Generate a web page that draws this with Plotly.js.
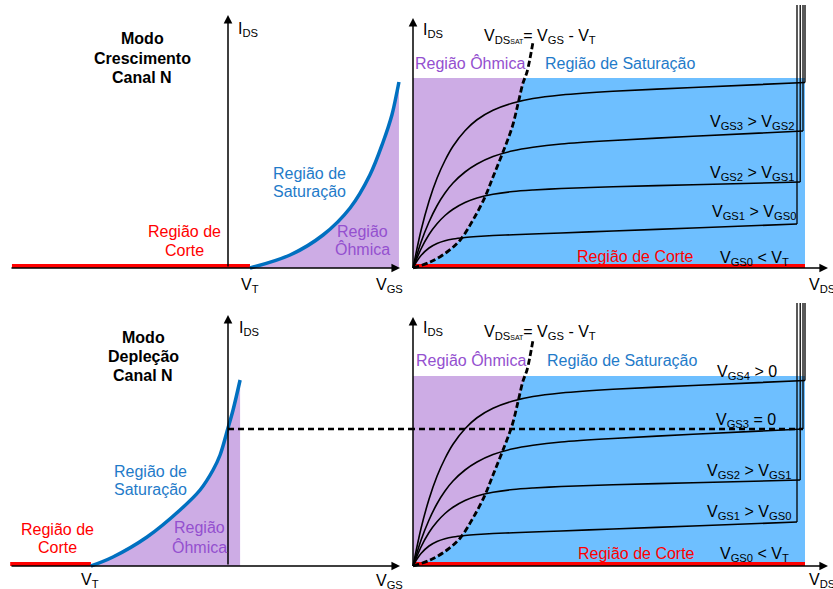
<!DOCTYPE html>
<html><head><meta charset="utf-8">
<script src="https://cdn.plot.ly/plotly-3.0.1.min.js"></script>
<style>html,body{margin:0;padding:0;background:#fff}#chart{width:833px;height:589px}</style>
</head><body><div id="chart"></div>
<script>
// ---------------- Data ----------------
// Transfer curve, enhancement mode (V_GS, I_DS)
const enhVgs = [1, 2.82, 4.32, 5.55, 6.45, 7.05, 7.45, 7.68, 7.77];
const enhIds = [0, 0.52, 1.32, 2.40, 3.72, 5.04, 6.12, 7.04, 7.44];
const enhCutVgs = [-9.82, 1];
// Transfer curve, depletion mode (V_GS, I_DS)
const depVgs = [-6.23, -5.23, -3.68, -2.18, -1.27, -0.68, -0.36, 0, 0.23, 0.55];
const depIds = [0, 0.36, 1.16, 2.24, 3.04, 3.84, 4.44, 5.52, 6.24, 7.44];
const depCutVgs = [-9.9, -6.23];
const idss = 5.48;
// Output curves (V_DS, I_DS), one per V_GS step
const vds1 = [0, 0.1, 0.2, 0.4, 0.6, 0.8, 1.0, 1.3, 1.6, 2.0, 2.5, 3.7, 5, 7, 9.6];
const ids1 = [0, 0.28, 0.50, 0.80, 0.98, 1.09, 1.16, 1.22, 1.26, 1.30, 1.33, 1.40, 1.48, 1.60, 1.76];
const vds2 = [0, 0.2, 0.4, 0.6, 0.8, 1.0, 1.3, 1.6, 2.0, 2.5, 3.0, 3.7, 5, 7, 9.68];
const ids2 = [0, 0.76, 1.34, 1.77, 2.10, 2.35, 2.62, 2.80, 2.95, 3.06, 3.12, 3.18, 3.25, 3.33, 3.44];
const vds3 = [0, 0.2, 0.4, 0.6, 0.8, 1.0, 1.3, 1.6, 2.0, 2.5, 3.0, 3.7, 5, 7, 9.75];
const ids3 = [0, 1.03, 1.84, 2.49, 3.00, 3.40, 3.84, 4.16, 4.46, 4.69, 4.83, 4.96, 5.10, 5.27, 5.48];
const vds4 = [0, 0.2, 0.4, 0.6, 0.8, 1.0, 1.3, 1.6, 2.0, 2.5, 3.0, 3.7, 5, 7, 9.8];
const ids4 = [0, 1.50, 2.67, 3.59, 4.30, 4.87, 5.49, 5.93, 6.31, 6.60, 6.78, 6.92, 7.07, 7.22, 7.42];
const curveTopIds = 10.52;
// V_DS(sat) boundary
const vdsSat = [0, 0.43, 0.85, 1.18, 1.5, 1.8, 2.0, 2.25, 2.48, 2.63, 2.75, 2.85, 3.0];
const idsSat = [0, 0.24, 0.64, 1.12, 1.92, 2.84, 3.64, 4.64, 5.64, 6.6, 7.4, 7.84, 9.04];
const vdsMax = 9.8;   // right end of the shaded regions
const idsMax = 7.6;   // top of the shaded regions
const cutVds = [0, 9.8];

// ---------------- Layout helpers ----------------
const W = 833, H = 589;
const FONT = 'Liberation Sans, Arial, sans-serif';
const BLUE_LINE = '#0070C0', BLUE_TXT = '#1F7BC9', RED = '#FF0000';
const PURPLE_TXT = '#9450CF', PURPLE_FILL = '#CDACE5', BLUE_FILL = '#6EBFFF';

function xAxis(p0, p1, origin, scale, anchor) {
  return {domain: [p0 / W, p1 / W], range: [(p0 - origin) / scale, (p1 - origin) / scale],
          visible: false, fixedrange: true, anchor: anchor};
}
function yAxis(top, bottom, origin, scale, anchor) {
  return {domain: [1 - bottom / H, 1 - top / H], range: [(origin - bottom) / scale, (origin - top) / scale],
          visible: false, fixedrange: true, anchor: anchor};
}
const layout = {
  width: W, height: H, margin: {l: 0, r: 0, t: 0, b: 0},
  paper_bgcolor: '#fff', plot_bgcolor: 'rgba(0,0,0,0)', showlegend: false,
  xaxis: xAxis(0, 409, 228, 22, 'y'),   yaxis: yAxis(0, 273, 268, 25, 'x'),
  xaxis2: xAxis(409, 833, 413, 40, 'y2'), yaxis2: yAxis(0, 273, 268, 25, 'x2'),
  xaxis3: xAxis(0, 409, 228, 22, 'y3'), yaxis3: yAxis(298, 571, 566, 25, 'x3'),
  xaxis4: xAxis(409, 833, 413, 40, 'y4'), yaxis4: yAxis(298, 571, 566, 25, 'x4'),
  annotations: []
};
const redLift = 2 / 25;

// ---------------- Traces ----------------
const data = [];
function line(xa, ya, x, y, color, width, extra) {
  data.push(Object.assign({type: 'scatter', mode: 'lines', xaxis: xa, yaxis: ya, x: x, y: y,
    line: {color: color, width: width}, hoverinfo: 'skip'}, extra || {}));
}
// Left panels: transfer curves
line('x', 'y', enhCutVgs, enhCutVgs.map(() => redLift), RED, 4);
line('x', 'y', enhVgs, enhIds, BLUE_LINE, 3.5, {fill: 'tozeroy', fillcolor: PURPLE_FILL, line: {color: BLUE_LINE, width: 3.5, shape: 'spline'}});
line('x3', 'y3', depCutVgs, depCutVgs.map(() => redLift), RED, 4);
line('x3', 'y3', depVgs, depIds, BLUE_LINE, 3.5, {fill: 'tozeroy', fillcolor: PURPLE_FILL, line: {color: BLUE_LINE, width: 3.5, shape: 'spline'}});
line('x3', 'y3', [0, layout.xaxis3.range[1]], [idss, idss], '#000', 2.4, {line: {color: '#000', width: 2.4, dash: '6px,4px'}});

// Right panels: output curves
function ohmicPolygon() {
  const px = [0], py = [0];
  for (let i = 1; i < vdsSat.length; i++) {
    if (idsSat[i] <= idsMax) { px.push(vdsSat[i]); py.push(idsSat[i]); }
    else {
      const t = (idsMax - idsSat[i - 1]) / (idsSat[i] - idsSat[i - 1]);
      px.push(vdsSat[i - 1] + t * (vdsSat[i] - vdsSat[i - 1])); py.push(idsMax);
      break;
    }
  }
  px.push(0); py.push(idsMax); px.push(0); py.push(0);
  return [px, py];
}
const curves = [[vds1, ids1], [vds2, ids2], [vds3, ids3], [vds4, ids4]];
function outputPanel(xa, ya, withIdss) {
  line(xa, ya, [0, vdsMax, vdsMax, 0, 0], [0, 0, idsMax, idsMax, 0], BLUE_FILL, 0, {fill: 'toself', fillcolor: BLUE_FILL});
  const op = ohmicPolygon();
  line(xa, ya, op[0], op[1], PURPLE_FILL, 0, {fill: 'toself', fillcolor: PURPLE_FILL});
  line(xa, ya, cutVds, cutVds.map(() => redLift), RED, 4);
  curves.forEach(c => {
    line(xa, ya, c[0], c[1], '#000', 1.6, {line: {color: '#000', width: 1.6, shape: 'spline', smoothing: 0.8}});
    const xe = c[0][c[0].length - 1], ye = c[1][c[1].length - 1];
    line(xa, ya, [xe, xe], [ye, curveTopIds], '#000', 1.3);
  });
  line(xa, ya, vdsSat, idsSat, '#000', 2.8, {line: {color: '#000', width: 2.8, dash: '6px,3px', shape: 'spline'}});
  if (withIdss) {
    const xr = layout['xaxis' + xa.slice(1)].range[0];
    line(xa, ya, [xr, vds3[vds3.length - 1]], [idss, idss], '#000', 2.4, {line: {color: '#000', width: 2.4, dash: '6px,4px'}});
  }
}
outputPanel('x2', 'y2', false);
outputPanel('x4', 'y4', true);

// ---------------- Axis arrows ----------------
function arrow(xa, ya, x0, y0, x1, y1) {
  layout.annotations.push({xref: xa, yref: ya, axref: xa, ayref: ya, x: x1, y: y1, ax: x0, ay: y0,
    text: '', showarrow: true, arrowhead: 2, arrowsize: 1.15, arrowwidth: 1.5, arrowcolor: '#000'});
}
arrow('x', 'y', -9.91, 0, 7.82, 0);   arrow('x', 'y', 0, 0, 0, 10.12);
arrow('x2', 'y2', 0, 0, 10.375, 0);   arrow('x2', 'y2', 0, 0, 0, 10.0);
arrow('x3', 'y3', -9.91, 0, 7.82, 0); arrow('x3', 'y3', 0, 0, 0, 10.04);
arrow('x4', 'y4', 0, 0, 10.375, 0);   arrow('x4', 'y4', 0, 0, 0, 9.96);

// ---------------- Text ----------------
function txt(text, x, y, color, anchor, bold) {
  layout.annotations.push({xref: 'paper', yref: 'paper', x: x / W, y: 1 - y / H, text: bold ? '<b>' + text + '</b>' : text,
    showarrow: false, xanchor: anchor || 'center', yanchor: 'middle', borderpad: 0,
    font: {family: FONT, size: 16, color: color || '#000'}});
}
const SAT = "V<sub>DS<span style='font-size:7px'>SAT</span></sub>= V<sub>GS</sub> - V<sub>T</sub>";
// Top-left
txt('Modo', 142, 39, '#000', 'center', true);
txt('Crescimento', 142, 58, '#000', 'center', true);
txt('Canal N', 142, 77, '#000', 'center', true);
txt('Região de', 309, 173, BLUE_TXT); txt('Saturação', 309, 192, BLUE_TXT);
txt('Região de', 184, 231, RED); txt('Corte', 184, 250, RED);
txt('Região', 362, 231, PURPLE_TXT); txt('Ôhmica', 362, 249, PURPLE_TXT);
txt('V<sub>T</sub>', 250, 285); txt('V<sub>GS</sub>', 389, 286);
txt('I<sub>DS</sub>', 237, 29, '#000', 'left');
// Top-right
txt('I<sub>DS</sub>', 422, 31, '#000', 'left');
txt(SAT, 483, 36, '#000', 'left');
txt('Região Ôhmica', 470, 63, PURPLE_TXT); txt('Região de Saturação', 620, 63, BLUE_TXT);
txt('V<sub>GS3</sub> &gt; V<sub>GS2</sub>', 795, 123, '#000', 'right');
txt('V<sub>GS2</sub> &gt; V<sub>GS1</sub>', 795, 173, '#000', 'right');
txt('V<sub>GS1</sub> &gt; V<sub>GS0</sub>', 797, 213, '#000', 'right');
txt('V<sub>GS0</sub> &lt; V<sub>T</sub>', 790, 258, '#000', 'right');
txt('Região de Corte', 635, 256, RED);
txt('V<sub>DS</sub>', 808, 286, '#000', 'left');
// Bottom-left
txt('Modo', 143, 337, '#000', 'center', true);
txt('Depleção', 143, 356, '#000', 'center', true);
txt('Canal N', 143, 375, '#000', 'center', true);
txt('Região de', 150, 471, BLUE_TXT); txt('Saturação', 150, 489, BLUE_TXT);
txt('Região', 199, 527, PURPLE_TXT); txt('Ôhmica', 199, 547, PURPLE_TXT);
txt('Região de', 57, 529, RED); txt('Corte', 57, 547, RED);
txt('V<sub>T</sub>', 90, 580); txt('V<sub>GS</sub>', 389, 581);
txt('I<sub>DS</sub>', 238, 328, '#000', 'left');
// Bottom-right
txt('I<sub>DS</sub>', 422, 328, '#000', 'left');
txt(SAT, 483, 332, '#000', 'left');
txt('Região Ôhmica', 471, 360, PURPLE_TXT); txt('Região de Saturação', 622, 360, BLUE_TXT);
txt('V<sub>GS4</sub> &gt; 0', 778, 372, '#000', 'right');
txt('V<sub>GS3</sub> = 0', 777, 420, '#000', 'right');
txt('V<sub>GS2</sub> &gt; V<sub>GS1</sub>', 792, 471, '#000', 'right');
txt('V<sub>GS1</sub> &gt; V<sub>GS0</sub>', 792, 512, '#000', 'right');
txt('V<sub>GS0</sub> &lt; V<sub>T</sub>', 790, 554, '#000', 'right');
txt('Região de Corte', 636, 553, RED);
txt('V<sub>DS</sub>', 808, 580, '#000', 'left');

Plotly.newPlot('chart', data, layout, {staticPlot: true, displayModeBar: false});
</script></body></html>
